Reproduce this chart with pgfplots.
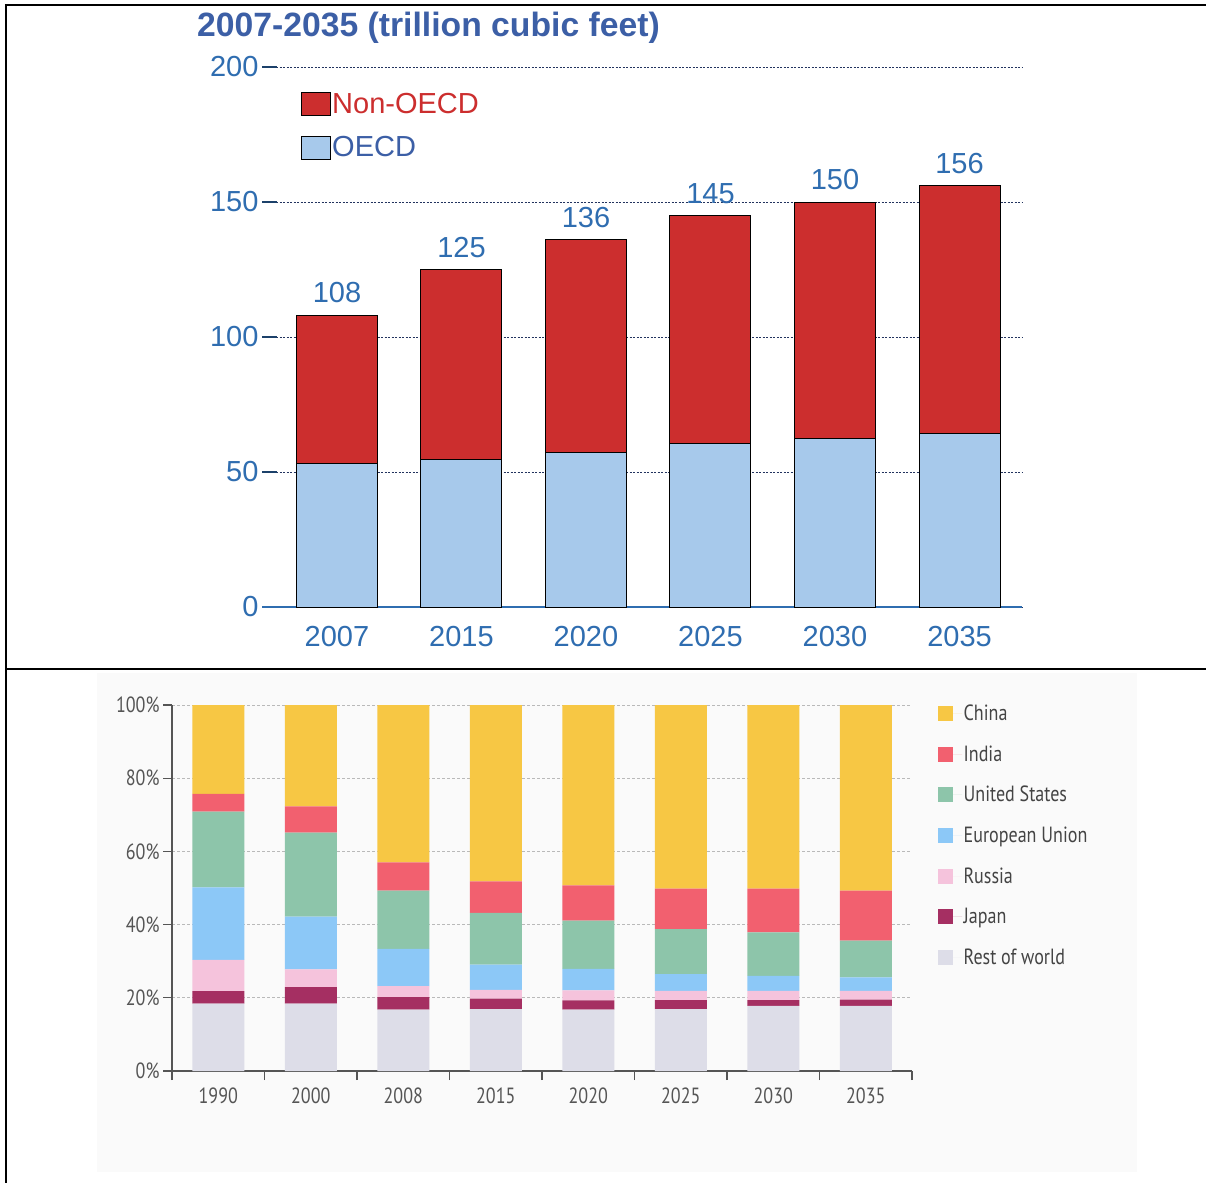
\documentclass[border=0pt]{standalone}
\usepackage{pgfplots}
\pgfplotsset{compat=1.18}
\usepackage{fontspec}
\setmainfont{Liberation Sans}
\newfontfamily\condfont[FakeStretch=0.82]{PT Sans}

\definecolor{nonoecd}{HTML}{CC2E2E}
\definecolor{oecd}{HTML}{A7C9EB}
\definecolor{tblue}{HTML}{2F6DB0}
\definecolor{titleblue}{HTML}{3C5FA6}
\definecolor{gridnavy}{HTML}{22335E}
\definecolor{china}{HTML}{F7C744}
\definecolor{india}{HTML}{F2606F}
\definecolor{usa}{HTML}{8DC5AA}
\definecolor{eu}{HTML}{8CC8F7}
\definecolor{russia}{HTML}{F5C3DC}
\definecolor{japan}{HTML}{A52F62}
\definecolor{rest}{HTML}{DDDDE8}
\definecolor{lgray}{HTML}{555555}
\definecolor{bgpanel}{HTML}{FAFAFA}

\begin{document}
\begin{tikzpicture}
\useasboundingbox (0pt,0pt) rectangle (1206pt,-1183pt);
\fill[white] (0pt,0pt) rectangle (1206pt,-1183pt);
\fill[bgpanel] (97pt,-673pt) rectangle (1137pt,-1172pt);
% frame
\draw[line width=2.5pt] (4.75pt,-5pt) -- (1206pt,-5pt);
\draw[line width=2.5pt] (6pt,-5pt) -- (6pt,-1183pt);
\draw[line width=2.5pt] (6pt,-669pt) -- (1206pt,-669pt);
% title
\node[anchor=base west, inner sep=0pt, text=titleblue,
      font=\fontsize{33.7}{36}\selectfont\bfseries] at (197pt,-36pt)
      {2007-2035 (trillion cubic feet)};

% ---------------- top chart ----------------
\begin{axis}[
  at={(262pt,-607pt)}, anchor=south west, scale only axis,
  width=760pt, height=540pt,
  ybar stacked, bar width=81pt,
  xmin=-0.602, xmax=5.502, ymin=0, ymax=200,
  xtick={0,...,5}, xticklabels={2007,2015,2020,2025,2030,2035},
  ytick={0,50,100,150,200},
  /pgf/number format/assume math mode=true,
  axis x line*=bottom, axis y line*=left,
  x axis line style={draw=tblue, line width=1.5pt, -},
  y axis line style={draw=none},
  xtick style={draw=none},
  ytick style={draw=tblue!60!black, line width=1.2pt},
  major tick length=15pt, tick align=inside,
  ymajorgrids,
  grid style={dash pattern=on 2pt off 1.5pt, gridnavy, line width=0.9pt},
  ticklabel style={font=\fontsize{29}{32}\selectfont, text=tblue},
  xticklabel style={yshift=-16pt},
  legend cell align=left,
  reverse legend,
  legend image code/.code={\draw[#1, draw=black, line width=0.8pt] (0pt,-11.5pt) rectangle (29pt,11.5pt);},
  legend style={at={(0.047,0.959)}, anchor=north west, draw=none, fill=none,
    font=\fontsize{29}{32}\selectfont, row sep=19pt,
    nodes={inner sep=1.5pt}},
]
\addplot[fill=oecd, draw=black, line width=1pt]
  coordinates {(0,53.3) (1,54.6) (2,57.3) (3,60.6) (4,62.4) (5,64.3)};
\addlegendentry{\textcolor{titleblue}{OECD}}
\addplot[fill=nonoecd, draw=black, line width=1pt]
  coordinates {(0,54.7) (1,70.4) (2,78.7) (3,84.4) (4,87.6) (5,91.7)};
\addlegendentry{\textcolor{nonoecd}{Non-OECD}}
\end{axis}

% overlay axis for the totals above the bars
\begin{axis}[
  at={(262pt,-607pt)}, anchor=south west, scale only axis,
  width=760pt, height=540pt,
  xmin=-0.602, xmax=5.502, ymin=0, ymax=200,
  hide axis, clip=false,
]
\addplot[draw=none, mark=none,
  nodes near coords, point meta=explicit symbolic,
  nodes near coords style={font=\fontsize{29}{32}\selectfont, text=tblue, anchor=south, inner sep=12pt}]
  coordinates {(0,108) [108] (1,125) [125] (2,136) [136] (3,145) [145] (4,150) [150] (5,156) [156]};
\end{axis}

% ---------------- bottom chart ----------------
\begin{axis}[
  at={(172pt,-1071pt)}, anchor=south west, scale only axis,
  width=740pt, height=366pt,
  ybar stacked, bar width=52pt,
  xmin=-0.5, xmax=7.5, ymin=0, ymax=100,
  xtick={0,...,7}, xticklabels={1990,2000,2008,2015,2020,2025,2030,2035},
  minor xtick={-0.5,0.5,...,7.5},
  ytick={0,20,...,100}, yticklabels={0\%,20\%,40\%,60\%,80\%,100\%},
  axis x line*=bottom, axis y line*=left,
  axis line style={draw=lgray, line width=1.2pt, -},
  major x tick style={draw=none},
  minor x tick style={draw=lgray, line width=1.2pt},
  ytick style={draw=lgray, line width=1.2pt},
  major tick length=9pt, minor tick length=9pt, tick align=outside,
  ymajorgrids,
  grid style={dash pattern=on 3pt off 2pt, gray!55, line width=0.8pt},
  ticklabel style={font=\condfont\fontsize{22}{24}\selectfont, text=lgray},
  xticklabel style={yshift=-4pt},
  legend cell align=left,
  reverse legend,
  legend image code/.code={\fill[#1, draw=none] (0pt,-7.5pt) rectangle (15pt,7.5pt); \path (0pt,0pt) -- (24pt,0pt);},
  legend style={at={(1.031,1.01)}, anchor=north west, draw=none, fill=none,
    font=\condfont\fontsize{22}{24}\selectfont, text=lgray!80!black, row sep=20.5pt,
    nodes={inner sep=1.5pt}},
]
\addplot[fill=rest, draw=none]
  coordinates {(0,18.4) (1,18.4) (2,16.8) (3,16.9) (4,16.8) (5,16.9) (6,17.8) (7,17.8)};
\addlegendentry{Rest of world}
\addplot[fill=japan, draw=none]
  coordinates {(0,3.4) (1,4.5) (2,3.4) (3,2.9) (4,2.5) (5,2.5) (6,1.6) (7,1.7)};
\addlegendentry{Japan}
\addplot[fill=russia, draw=none]
  coordinates {(0,8.6) (1,4.9) (2,3.0) (3,2.4) (4,2.7) (5,2.5) (6,2.5) (7,2.4)};
\addlegendentry{Russia}
\addplot[fill=eu, draw=none]
  coordinates {(0,19.8) (1,14.4) (2,10.2) (3,6.9) (4,5.9) (5,4.6) (6,4.1) (7,3.7)};
\addlegendentry{European Union}
\addplot[fill=usa, draw=none]
  coordinates {(0,20.7) (1,22.9) (2,15.9) (3,14.1) (4,13.2) (5,12.3) (6,11.9) (7,10.0)};
\addlegendentry{United States}
\addplot[fill=india, draw=none]
  coordinates {(0,4.8) (1,7.2) (2,7.7) (3,8.6) (4,9.6) (5,11.0) (6,11.9) (7,13.7)};
\addlegendentry{India}
\addplot[fill=china, draw=none]
  coordinates {(0,24.3) (1,27.7) (2,43.0) (3,48.2) (4,49.3) (5,50.2) (6,50.2) (7,50.7)};
\addlegendentry{China}
\end{axis}
\end{tikzpicture}
\end{document}
